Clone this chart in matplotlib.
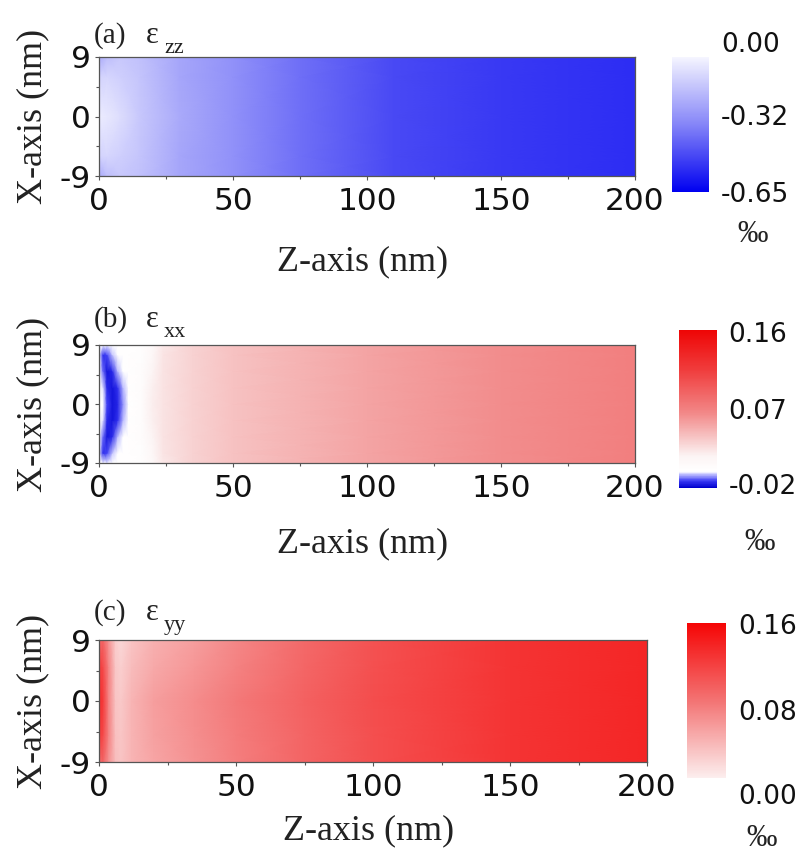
import numpy as np
import matplotlib
matplotlib.use("Agg")
import matplotlib.pyplot as plt
from matplotlib.colors import LinearSegmentedColormap, Normalize

plt.rcParams["axes.unicode_minus"] = False

# ---- data (strain, per mille) ----
# panel (a) eps_zz
z_a = [0, 3, 8, 15, 30, 50, 75, 110, 150, 200]
x_a = [-9, -6, 0, 6, 9]
v_a = [
    [-0.22, -0.16, -0.13, -0.15, -0.23, -0.29, -0.38, -0.47, -0.51, -0.54],
    [-0.10, -0.09, -0.11, -0.14, -0.23, -0.29, -0.38, -0.47, -0.51, -0.54],
    [-0.03, -0.04, -0.07, -0.13, -0.22, -0.29, -0.38, -0.47, -0.51, -0.54],
    [-0.10, -0.09, -0.11, -0.14, -0.23, -0.29, -0.38, -0.47, -0.51, -0.54],
    [-0.22, -0.16, -0.13, -0.15, -0.23, -0.29, -0.38, -0.47, -0.51, -0.54],
]

# panel (b) eps_xx
z_b = [0, 1.5, 3, 5, 7, 9, 11, 16, 20, 24, 35, 50, 100, 150, 200]
x_b = [-9, -7.5, -5, -2.5, 0, 2.5, 5, 7.5, 9]
v_b = [
    [0, -0.001, -0.002, 0, 0, 0, 0, 0.002, 0.010, 0.022, 0.032, 0.039, 0.053, 0.063, 0.071],
    [-0.002, -0.013, -0.011, -0.004, 0, 0, 0, 0.002, 0.012, 0.023, 0.032, 0.039, 0.053, 0.063, 0.071],
    [0, -0.009, -0.017, -0.014, -0.005, -0.001, 0, 0.003, 0.016, 0.024, 0.032, 0.039, 0.053, 0.063, 0.071],
    [0, -0.003, -0.014, -0.017, -0.013, -0.005, 0, 0.003, 0.018, 0.024, 0.032, 0.039, 0.053, 0.063, 0.071],
    [0, -0.001, -0.011, -0.017, -0.015, -0.007, -0.001, 0.003, 0.019, 0.024, 0.032, 0.039, 0.053, 0.063, 0.071],
    [0, -0.003, -0.014, -0.017, -0.013, -0.005, 0, 0.003, 0.018, 0.024, 0.032, 0.039, 0.053, 0.063, 0.071],
    [0, -0.009, -0.017, -0.014, -0.005, -0.001, 0, 0.003, 0.016, 0.024, 0.032, 0.039, 0.053, 0.063, 0.071],
    [-0.002, -0.013, -0.011, -0.004, 0, 0, 0, 0.002, 0.012, 0.023, 0.032, 0.039, 0.053, 0.063, 0.071],
    [0, -0.001, -0.002, 0, 0, 0, 0, 0.002, 0.010, 0.022, 0.032, 0.039, 0.053, 0.063, 0.071],
]

# panel (c) eps_yy
z_c = [0, 1.5, 3.5, 6, 8, 12, 20, 35, 50, 75, 100, 150, 200]
x_c = [-9, -5, 0, 5, 9]
v_c = [
    [0.09, 0.09, 0.06, 0.032, 0.028, 0.038, 0.048, 0.060, 0.073, 0.091, 0.106, 0.126, 0.136],
    [0.12, 0.11, 0.07, 0.030, 0.026, 0.038, 0.050, 0.062, 0.074, 0.091, 0.106, 0.126, 0.136],
    [0.13, 0.12, 0.07, 0.028, 0.024, 0.038, 0.052, 0.064, 0.076, 0.093, 0.107, 0.126, 0.136],
    [0.12, 0.11, 0.07, 0.025, 0.020, 0.033, 0.045, 0.057, 0.070, 0.089, 0.105, 0.126, 0.136],
    [0.09, 0.09, 0.06, 0.022, 0.015, 0.028, 0.040, 0.052, 0.067, 0.087, 0.104, 0.126, 0.136],
]

x_ticks = [0, 50, 100, 150, 200]
y_ticks = [-9, 0, 9]


def make_cmap(name, stops, vmin, vmax):
    pts = [((v - vmin) / (vmax - vmin), tuple(c / 255 for c in col)) for v, col in stops]
    return LinearSegmentedColormap.from_list(name, pts), Normalize(vmin, vmax)


cmap_a, norm_a = make_cmap("a", [(-0.65, (0, 0, 240)), (-0.32, (135, 135, 248)),
                                 (0.0, (245, 245, 255))], -0.65, 0.0)
cmap_b, norm_b = make_cmap("b", [(-0.02, (0, 0, 205)), (-0.012, (60, 60, 245)),
                                 (-0.004, (205, 205, 255)), (-0.0015, (255, 255, 255)),
                                 (0.016, (252, 244, 244)), (0.036, (247, 200, 200)),
                                 (0.066, (242, 135, 135)), (0.115, (240, 60, 60)),
                                 (0.16, (238, 5, 5))], -0.02, 0.16)
cmap_c, norm_c = make_cmap("c", [(0.0, (252, 238, 238)), (0.08, (243, 115, 115)),
                                 (0.16, (245, 5, 5))], 0.0, 0.16)

W, H = 800, 856
fig = plt.figure(figsize=(W / 100, H / 100), dpi=100)


def rect(l, t, r, b):
    return [l / W, 1 - b / H, (r - l) / W, (b - t) / H]


serif = "Liberation Serif"
sans = "DejaVu Sans"

panels = [
    dict(z=z_a, x=x_a, v=v_a, cmap=cmap_a, norm=norm_a, ax=(99, 57, 635, 176),
         cax=(672, 57, 709, 192), tag="(a)", sub="zz", ty=43,
         cb_labels=[("0.00", 721, 45), ("-0.32", 721, 118), ("-0.65", 721, 195)],
         permil=(753, 235), xlab_y=262),
    dict(z=z_b, x=x_b, v=v_b, cmap=cmap_b, norm=norm_b, ax=(99, 345, 635, 463),
         cax=(679, 330, 717, 488), tag="(b)", sub="xx", ty=327,
         cb_labels=[("0.16", 728, 335), ("0.07", 728, 412), ("-0.02", 729, 487)],
         permil=(760, 542), xlab_y=544),
    dict(z=z_c, x=x_c, v=v_c, cmap=cmap_c, norm=norm_c, ax=(99, 640, 647, 762),
         cax=(687, 623, 726, 778), tag="(c)", sub="yy", ty=620,
         cb_labels=[("0.16", 738, 627), ("0.08", 738, 713), ("0.00", 738, 797)],
         permil=(762, 838), xlab_y=831),
]

for p in panels:
    l, t, r, b = p["ax"]
    ax = fig.add_axes(rect(l, t, r, b))
    Z, X = np.meshgrid(p["z"], p["x"])
    mesh = ax.pcolormesh(Z, X, np.array(p["v"]), shading="gouraud",
                         cmap=p["cmap"], norm=p["norm"], rasterized=True)
    ax.set_xlim(0, 200)
    ax.set_ylim(-9, 9)
    ax.set_xticks(x_ticks)
    ax.set_yticks(y_ticks)
    ax.set_xticks([25, 75, 125, 175], minor=True)
    ax.set_yticks([-4.5, 4.5], minor=True)
    ax.tick_params(which="both", direction="out", color="#555555", width=0.8)
    ax.tick_params(which="major", length=3)
    ax.tick_params(which="minor", length=2)
    ax.tick_params(axis="x", labelsize=22.5, pad=5)
    ax.tick_params(axis="y", labelsize=22.5, pad=3)
    for lab in ax.get_xticklabels() + ax.get_yticklabels():
        lab.set_family(sans)
        lab.set_color("#111111")
    for s in ax.spines.values():
        s.set_color("#555555")
        s.set_linewidth(0.9)

    # axis labels
    fig.text((l + r) / 2 / W - 0.005, 1 - p["xlab_y"] / H, "Z-axis (nm)", family=serif,
             fontsize=26, ha="center", va="center", color="#222222")
    fig.text(33 / W, 1 - (t + b) / 2 / H, "X-axis (nm)", family=serif, fontsize=26,
             rotation=90, ha="center", va="center", color="#222222")

    # panel tag
    fig.text(94 / W, 1 - p["ty"] / H, p["tag"], family=serif, fontsize=21,
             ha="left", va="baseline", color="#222222")
    fig.text(146 / W, 1 - p["ty"] / H, "\u03b5", family=serif, fontsize=22,
             ha="left", va="baseline", color="#222222")
    fig.text(164 / W, 1 - (p["ty"] + 10) / H, p["sub"], family=serif, fontsize=16,
             ha="left", va="baseline", color="#222222")

    # colorbar
    cl, ct, cr, cbm = p["cax"]
    cax = fig.add_axes(rect(cl, ct, cr, cbm))
    cb = fig.colorbar(mesh, cax=cax)
    cb.outline.set_visible(False)
    cb.set_ticks([])
    for txt, xx, yy in p["cb_labels"]:
        fig.text(xx / W, 1 - yy / H, txt, family=sans, fontsize=19,
                 ha="left", va="center", color="#111111")
    fig.text(p["permil"][0] / W, 1 - p["permil"][1] / H, "\u2030", family=serif,
             fontsize=22, ha="center", va="center", color="#222222")

fig.savefig("out.png", dpi=100)
